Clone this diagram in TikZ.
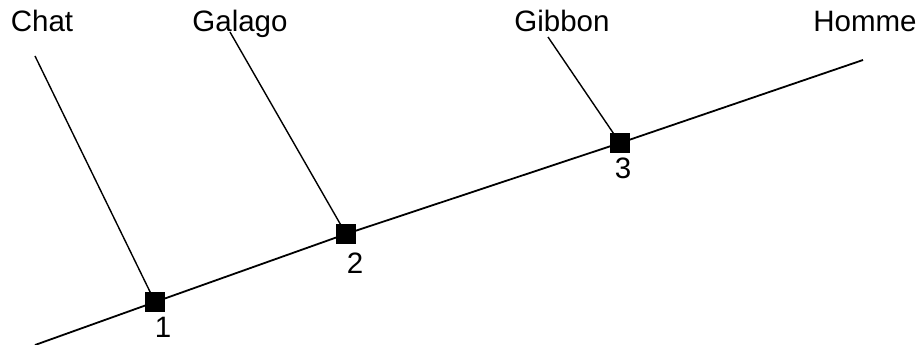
\documentclass[tikz,border=0pt]{standalone}
\usepackage{fontspec}
\setmainfont{Liberation Sans}
\usetikzlibrary{positioning}

\begin{document}
\begin{tikzpicture}[x=1pt,y=-1pt,
    knot/.style={fill=black,inner sep=0pt,minimum size=20pt},
    taxon/.style={anchor=base,font=\fontsize{29.5}{33}\selectfont},
    branch/.style={line width=1.4pt},
    trunk/.style={line width=1.8pt}]
          \useasboundingbox (0,0) rectangle (922,345);
          % ends of the lines
          \coordinate (root) at (35,345);
          \coordinate (chatend) at (35,56);
          \coordinate (galagoend) at (230,32);
          \coordinate (gibbonend) at (548,37);
          \coordinate (hommeend) at (863,60);
          % nodes of the tree
          \node[knot] (n1) at (155,302) {};
          \node[knot] (n2) at (346,234) {};
          \node[knot] (n3) at (620,143) {};
          \draw[trunk] (root) -- (n1.center) -- (n2.center) -- (n3.center) -- (hommeend);
          \draw[branch] (chatend) -- (n1.center);
          \draw[branch] (galagoend) -- (n2.center);
          \draw[branch] (gibbonend) -- (n3.center);
          \node[knot] at (n1) {};
          \node[knot] at (n2) {};
          \node[knot] at (n3) {};
          % names
          \node[taxon] (chat) at (42,32) {Chat};
          \node[taxon] (galago) at (240,32) {Galago};
          \node[taxon] (gibbon) at (562,32) {Gibbon};
          \node[taxon] (homme) at (865,32) {Homme};
          % numbers
          \node[taxon] (l1) at (163,337) {1};
          \node[taxon] (l2) at (355,273) {2};
          \node[taxon] (l3) at (623,178) {3};
      \end{tikzpicture}
\end{document}
